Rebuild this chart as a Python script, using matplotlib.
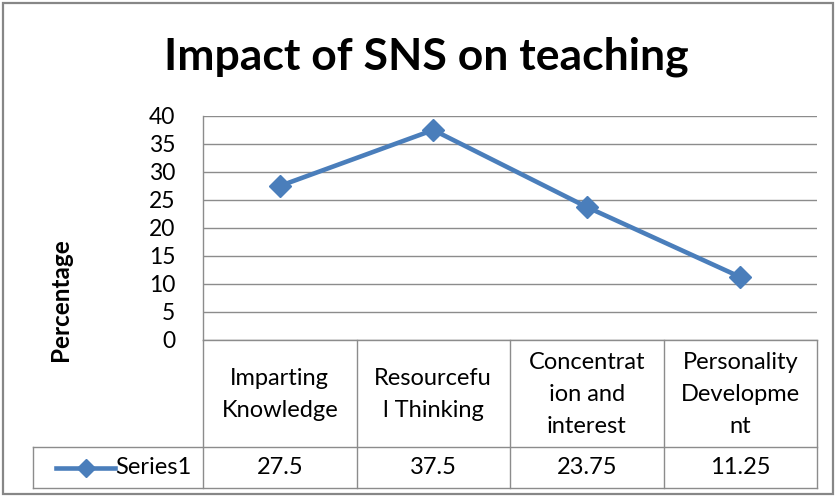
import matplotlib.pyplot as plt
from matplotlib.lines import Line2D
from matplotlib.patches import Rectangle

categories = ["Imparting\nKnowledge", "Resourcefu\nl Thinking",
              "Concentrat\nion and\ninterest", "Personality\nDevelopme\nnt"]
values = [27.5, 37.5, 23.75, 11.25]
value_labels = ["27.5", "37.5", "23.75", "11.25"]
series_name = "Series1"
yticks = [0, 5, 10, 15, 20, 25, 30, 35, 40]

W, H = 836, 497
blue = "#4A7EBB"
grid = "#8C8C8C"
fnt = ["Lato", "DejaVu Sans"]

fig = plt.figure(figsize=(W / 100, H / 100), dpi=100)
fig.patch.set_facecolor("white")

# outer chart frame
fig.add_artist(Rectangle((3 / W, 3 / H), 830 / W, 491 / H, transform=fig.transFigure,
                         fill=False, edgecolor="#878787", linewidth=1.6))


def fx(px):
    return px / W


def fy(py):
    return 1 - py / H


left, right, top, zero, tbot = 203, 817, 116, 340, 488
ax = fig.add_axes([fx(left), fy(zero), fx(right - left), (zero - top) / H])
n = len(values)
xs = list(range(n))
ax.plot(xs, values, color=blue, linewidth=3.3, marker="D", markersize=11,
        markerfacecolor=blue, markeredgecolor=blue, clip_on=False, zorder=3)
ax.set_xlim(-0.5, n - 0.5)
ax.set_ylim(0, 40)
ax.set_yticks(yticks)
ax.set_yticklabels([str(t) for t in yticks], family=fnt, fontsize=16.5)
ax.yaxis.grid(True, color=grid, linewidth=1)
ax.set_axisbelow(True)
ax.set_xticks([])
ax.tick_params(axis="y", length=0, pad=20)
for s in ["top", "right", "bottom"]:
    ax.spines[s].set_visible(False)
ax.spines["left"].set_color(grid)
ax.spines["left"].set_linewidth(1)

fig.text(fx(60), fy(300), "Percentage", rotation=90, ha="center", va="center",
         family=fnt, fontsize=17.5, fontweight="bold")
fig.text(fx(426), fy(57), "Impact of SNS on teaching", ha="center", va="center",
         family=fnt, fontsize=32, fontweight="bold")

# data table below the plot
tab = fig.add_axes([fx(left), fy(tbot), fx(right - left), (tbot - zero) / H])
tab.set_xlim(-0.5, n - 0.5)
tab.set_ylim(tbot - zero, 0)
tab.axis("off")
hdr = 447 - zero
lw = 1
for i in range(n + 1):
    tab.add_line(Line2D([i - 0.5, i - 0.5], [0, tbot - zero], color=grid, lw=lw, clip_on=False))
label_left = -0.5 - (left - 33) / (right - left) * n
tab.add_line(Line2D([-0.5, n - 0.5], [0, 0], color=grid, lw=lw, clip_on=False))
tab.add_line(Line2D([label_left, n - 0.5], [hdr, hdr], color=grid, lw=lw, clip_on=False))
tab.add_line(Line2D([label_left, n - 0.5], [tbot - zero, tbot - zero], color=grid, lw=lw, clip_on=False))
tab.add_line(Line2D([label_left, label_left], [hdr, tbot - zero], color=grid, lw=lw, clip_on=False))

for i, (c, v) in enumerate(zip(categories, value_labels)):
    tab.text(i, hdr / 2 + 1, c, ha="center", va="center", family=fnt, fontsize=17,
             linespacing=1.65)
    tab.text(i, (hdr + tbot - zero) / 2, v, ha="center", va="center", family=fnt, fontsize=17)

# legend key in the series row
ky = (hdr + tbot - zero) / 2
kx0 = -0.5 - (left - 56) / (right - left) * n
kx1 = -0.5 - (left - 115) / (right - left) * n
tab.add_line(Line2D([kx0, kx1], [ky, ky], color=blue, lw=3.3, clip_on=False))
tab.add_line(Line2D([(kx0 + kx1) / 2], [ky], color=blue, marker="D", markersize=9,
                    clip_on=False))
tab.text(kx1, ky, series_name, ha="left", va="center", family=fnt, fontsize=17)

fig.savefig("out.png", dpi=100)
